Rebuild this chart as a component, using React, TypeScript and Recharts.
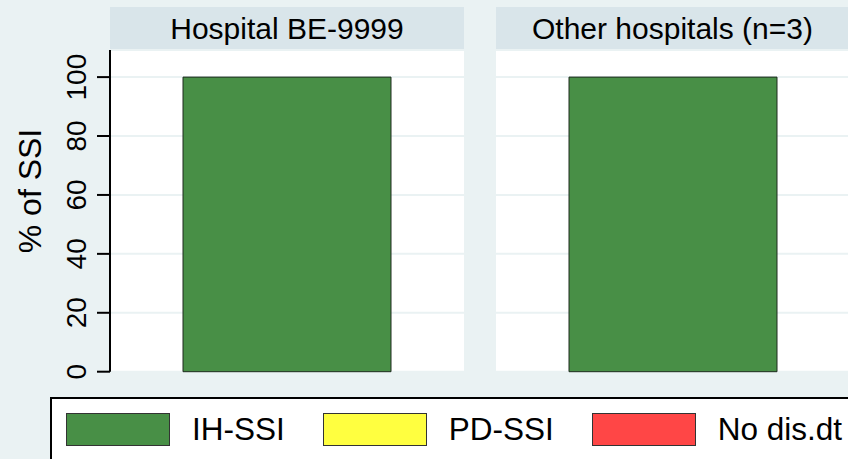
import React from 'react';
import { BarChart, Bar, XAxis, YAxis, CartesianGrid } from 'recharts';

const panels = ['Hospital BE-9999', 'Other hospitals (n=3)'];
const ihSsi = [100, 100];
const pdSsi = [0, 0];
const noDisDt = [0, 0];
const seriesNames = ['IH-SSI', 'PD-SSI', 'No dis.dt'];
const seriesKeys = ['ih', 'pd', 'nd'];
const seriesColors = ['#488F46', '#FFFF40', '#FF4646'];
const yTicks = [0, 20, 40, 60, 80, 100];
const yLabel = '% of SSI';

const FONT = '"Liberation Sans", Arial, Helvetica, sans-serif';
const BG = '#EAF2F3';
const HEADER = '#D9E5EA';
const W = 848;
const H = 459;
const PLOT_TOP = 50;
const PLOT_BOTTOM = 371.7;
const Y_MAX = 109.2;
const panelBoxes = [
  { left: 0, axisW: 110, width: 464 },
  { left: 496, axisW: 0, width: 353 },
];

const seriesValues = [ihSsi, pdSsi, noDisDt];

const panelData = panels.map((p, i) => {
  const row: any = { name: p };
  seriesKeys.forEach((k, s) => {
    row[k] = seriesValues[s][i];
  });
  return [row];
});

const Tick = (props: any) => {
  const { x, y, payload } = props;
  const tx = x - 11;
  return (
    <text
      x={tx}
      y={y}
      transform={`rotate(-90, ${tx}, ${y})`}
      textAnchor="middle"
      fontSize={28}
      fontFamily={FONT}
      fill="#000"
    >
      {payload.value}
    </text>
  );
};

const YLab = () => (
  <text
    x={41}
    y={191}
    transform={`rotate(-90, 41, 191)`}
    textAnchor="middle"
    fontSize={32}
    fontFamily={FONT}
    fill="#000"
  >
    {yLabel}
  </text>
);

export default function App() {
  return (
    <div
      style={{
        position: 'absolute',
        left: 0,
        top: 0,
        width: W,
        height: H,
        background: BG,
        overflow: 'hidden',
        fontFamily: FONT,
      }}
    >
      {panelBoxes.map((pb, i) => (
        <React.Fragment key={i}>
          <div
            style={{
              position: 'absolute',
              left: pb.left + pb.axisW,
              top: 7,
              width: pb.width - pb.axisW,
              height: PLOT_TOP - 7,
              background: HEADER,
              textAlign: 'center',
              fontSize: 30,
              lineHeight: `${PLOT_TOP - 7}px`,
              color: '#000',
              whiteSpace: 'nowrap',
            }}
          >
            {panels[i]}
          </div>
          <div style={{ position: 'absolute', left: pb.left, top: 0 }}>
            <BarChart
              width={pb.width}
              height={H}
              data={panelData[i]}
              margin={{ top: PLOT_TOP, right: 0, left: 0, bottom: H - PLOT_BOTTOM }}
              barSize={208}
            >
              <CartesianGrid
                vertical={false}
                horizontal={true}
                fill="#FFFFFF"
                stroke={BG}
                strokeWidth={2}
              />
              <XAxis dataKey="name" hide />
              <YAxis
                hide={pb.axisW === 0}
                width={pb.axisW}
                domain={[0, Y_MAX]}
                ticks={yTicks}
                interval={0}
                tickSize={13}
                tickMargin={0}
                tick={<Tick />}
                axisLine={{ stroke: '#000', strokeWidth: 2 }}
                tickLine={{ stroke: '#000', strokeWidth: 2 }}
                label={i === 0 ? <YLab /> : undefined}
              />
              {seriesKeys.map((k, s) => (
                <Bar
                  key={k}
                  dataKey={k}
                  stackId="a"
                  fill={seriesColors[s]}
                  stroke="#1E2A1E"
                  strokeWidth={1}
                  isAnimationActive={false}
                />
              ))}
            </BarChart>
          </div>
        </React.Fragment>
      ))}
      <div
        style={{
          position: 'absolute',
          left: 50,
          top: 397,
          width: 900,
          height: 100,
          border: '2px solid #000',
          background: '#FFFFFF',
          boxSizing: 'border-box',
          display: 'flex',
          alignItems: 'flex-start',
          paddingLeft: 14,
          paddingTop: 14,
        }}
      >
        {seriesNames.map((n, s) => (
          <React.Fragment key={n}>
            <div
              style={{
                width: 104,
                height: 33,
                background: seriesColors[s],
                border: '1px solid #333',
                boxSizing: 'border-box',
                marginRight: 22,
                flex: 'none',
              }}
            />
            <span
              style={{
                fontSize: 31.5,
                lineHeight: '33px',
                marginRight: 38,
                color: '#000',
                whiteSpace: 'nowrap',
                flex: 'none',
              }}
            >
              {n}
            </span>
          </React.Fragment>
        ))}
      </div>
    </div>
  );
}
